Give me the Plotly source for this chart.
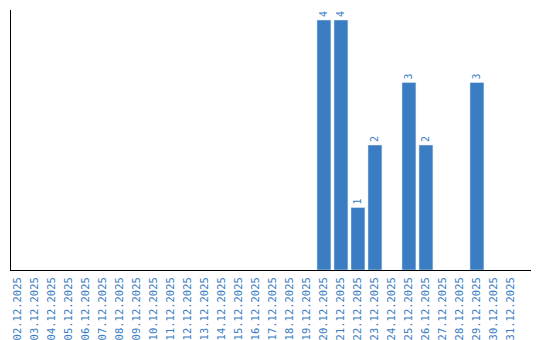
import plotly.graph_objects as go

dates = ["02.12.2025", "03.12.2025", "04.12.2025", "05.12.2025", "06.12.2025",
         "07.12.2025", "08.12.2025", "09.12.2025", "10.12.2025", "11.12.2025",
         "12.12.2025", "13.12.2025", "14.12.2025", "15.12.2025", "16.12.2025",
         "17.12.2025", "18.12.2025", "19.12.2025", "20.12.2025", "21.12.2025",
         "22.12.2025", "23.12.2025", "24.12.2025", "25.12.2025", "26.12.2025",
         "27.12.2025", "28.12.2025", "29.12.2025", "30.12.2025", "31.12.2025"]
counts = [None, None, None, None, None, None, None, None, None, None,
          None, None, None, None, None, None, None, None, 4, 4,
          1, 2, None, 3, 2, None, None, 3, None, None]

blue = "#3a7dc2"
labels = [str(v) if v is not None else "" for v in counts]

fig = go.Figure(go.Bar(
    x=list(range(len(dates))), y=counts, marker_color=blue,
    text=labels, textposition="outside", textangle=-90,
    textfont=dict(family="DejaVu Sans Mono", size=10, color=blue),
    cliponaxis=False,
))
fig.update_layout(
    width=540, height=340, margin=dict(l=11, r=9, t=10, b=70),
    paper_bgcolor="white", plot_bgcolor="white", showlegend=False,
    bargap=0.18,
    xaxis=dict(tickmode="array", tickvals=list(range(len(dates))), ticktext=dates,
               tickangle=-90, range=[-0.41, 30.18], showgrid=False, zeroline=False,
               showline=True, linecolor="black", linewidth=1, ticks="",
               automargin=False, ticklabelstandoff=2,
               tickfont=dict(family="DejaVu Sans Mono", size=10.5, color=blue)),
    yaxis=dict(range=[0, 4.16], showgrid=False, zeroline=False, showline=True,
               linecolor="black", linewidth=1, showticklabels=False, ticks="",
               automargin=False),
)
fig.write_html("out.html")
